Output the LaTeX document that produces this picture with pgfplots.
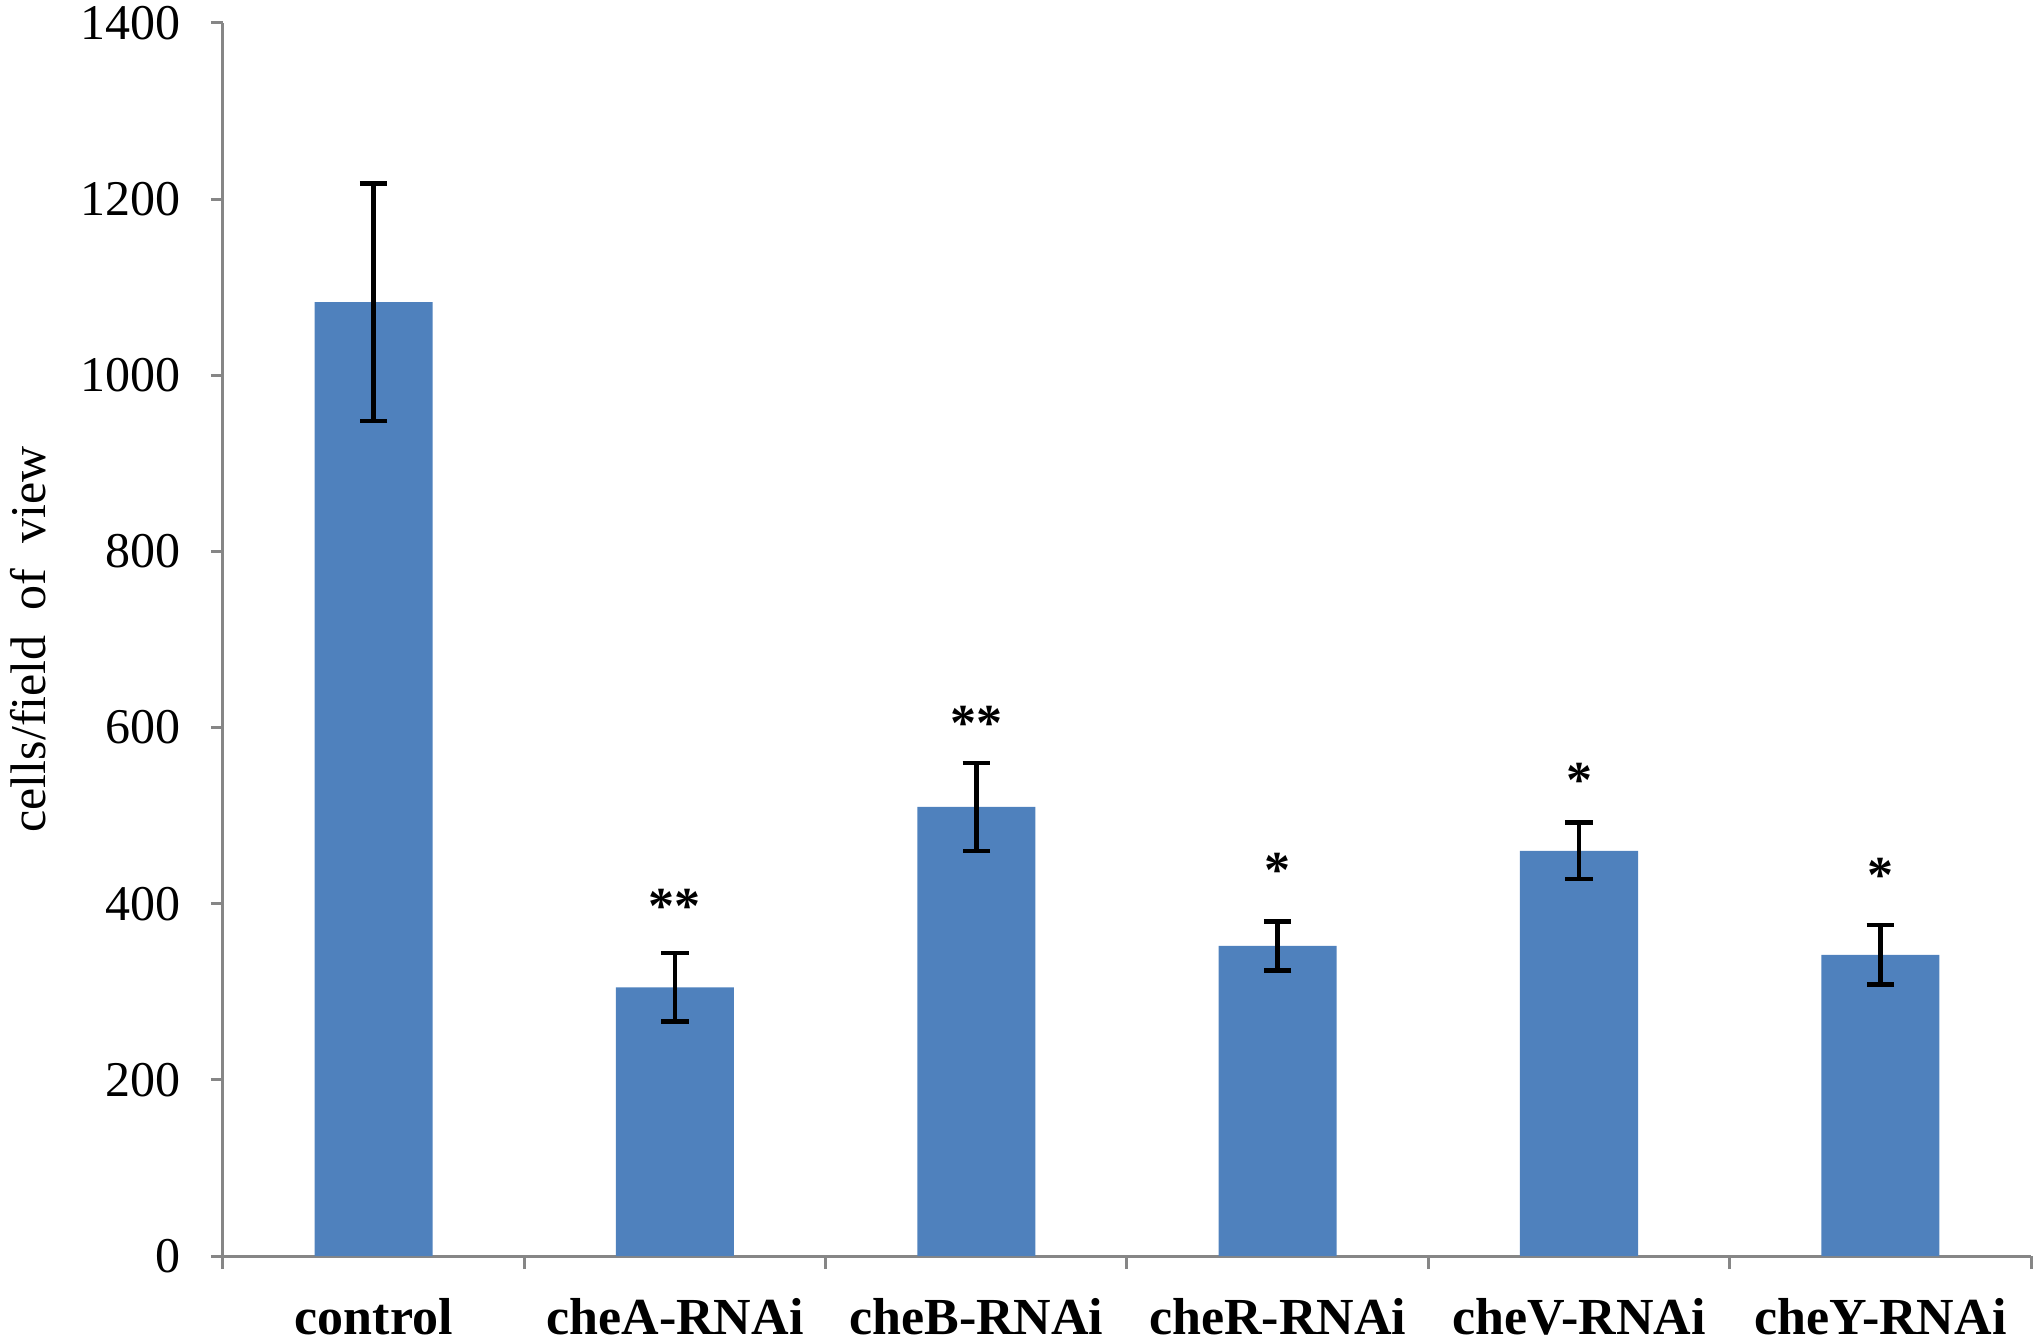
\documentclass[border=0pt]{standalone}
\usepackage{pgfplots}
\pgfplotsset{compat=1.18}
\usepackage{fontspec}
\setmainfont{Liberation Serif}
\definecolor{barblue}{HTML}{4F81BD}
\definecolor{axgray}{HTML}{868686}
\begin{document}
\begin{tikzpicture}
\begin{axis}[
  name=ax,
  scale only axis,
  width=452pt, height=308.25pt,
  xmin=-0.5, xmax=5.5,
  ymin=0, ymax=1400,
  axis lines*=left,
  axis line style={axgray, line width=0.75pt},
  every tick/.style={axgray, line width=0.75pt},
  tick align=outside,
  xtick={0,1,2,3,4,5},
  xticklabels={control,cheA-RNAi,cheB-RNAi,cheR-RNAi,cheV-RNAi,cheY-RNAi},
  minor xtick={-0.5,0.5,1.5,2.5,3.5,4.5,5.5},
  major x tick style={draw=none},
  minor tick length=3.25pt,
  major tick length=3pt,
  ytick={0,200,...,1400},
  /pgf/number format/assume math mode=true,
  /pgf/number format/1000 sep={},
  yticklabel style={font=\fontsize{12.5}{14}\selectfont, anchor=east, xshift=-4.2pt},
  xticklabel style={font=\fontsize{13}{15}\selectfont\bfseries, anchor=base, yshift=-16.6pt},
  ylabel={cells/field\ \ of\ \ view},
  ylabel style={font=\fontsize{12.5}{14}\selectfont, at={(axis description cs:-0.1075,0.5)}, anchor=center, rotate=0},
  clip=false,
]
\addplot[ybar, bar width=29.5pt, fill=barblue, draw=none,
  error bars/.cd, y dir=both, y explicit,
  error bar style={black, line width=1.15pt},
  error mark options={black, line width=1.15pt, mark size=3.45pt, rotate=90}]
  coordinates {
    (0,1083) +- (0,135)
    (1,305) +- (0,39)
    (2,510) +- (0,50)
    (3,352) +- (0,28)
    (4,460) +- (0,32)
    (5,342) +- (0,34)
  };
\addplot[draw=none, mark=none, point meta=explicit symbolic,
  nodes near coords, nodes near coords align={center},
  every node near coord/.append style={font=\fontsize{13}{15}\selectfont\bfseries, anchor=center, inner sep=0pt, yshift=-1.6pt}]
  coordinates {
    (1,404) [**]
    (2,612) [**]
    (3,445) [*]
    (4,547) [*]
    (5,439) [*]
  };
\end{axis}
\pgfresetboundingbox
\path[use as bounding box] (ax.south west) ++(-55.75pt,-21.5pt) rectangle ++(508.75pt,335.5pt);
\end{tikzpicture}
\end{document}
